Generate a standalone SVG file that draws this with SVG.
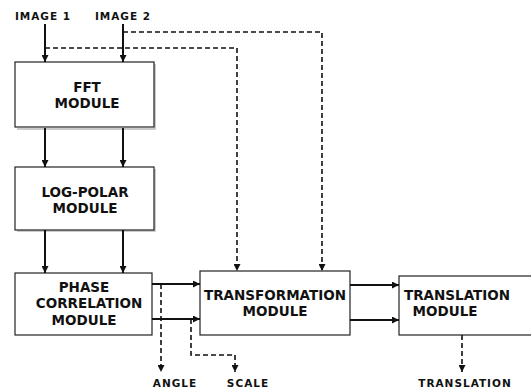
<svg xmlns="http://www.w3.org/2000/svg" width="531" height="391" viewBox="0 0 531 391">
<style>
.box{fill:#fff;stroke:#222;stroke-width:1.2}
.shadow{fill:none;stroke:#bbb;stroke-width:1.5}
.t{font-family:"DejaVu Sans",Verdana,sans-serif;font-weight:bold;font-size:13.5px;fill:#111;text-anchor:middle}
.l{font-family:"DejaVu Sans",Verdana,sans-serif;font-weight:bold;font-size:10.5px;fill:#111;text-anchor:middle;letter-spacing:1px}
.s{fill:none;stroke:#111;stroke-width:2}
.d{fill:none;stroke:#111;stroke-width:1.6;stroke-dasharray:5,3}
</style>
<defs>
<marker id="a" viewBox="0 0 8 8" refX="8" refY="4" markerWidth="7" markerHeight="7" markerUnits="userSpaceOnUse" orient="auto">
<path d="M0,0 L8,4 L0,8 Z" fill="#111"/>
</marker>
</defs>
<g id="labels-in">
<text class="l" x="43" y="20">IMAGE 1</text>
<text class="l" x="123" y="20">IMAGE 2</text>
</g>
<g id="fft">
<polyline class="shadow" points="155,64 155,129 17,129"/>
<rect class="box" x="15" y="62" width="139" height="65"/>
<text class="t" x="87" y="92">FFT</text>
<text class="t" x="87" y="108">MODULE</text>
</g>
<g id="logpolar">
<polyline class="shadow" points="155,169 155,231 17,231"/>
<rect class="box" x="15" y="167" width="139" height="63"/>
<text class="t" x="85" y="197">LOG-POLAR</text>
<text class="t" x="85" y="213">MODULE</text>
</g>
<g id="phase">
<rect class="box" x="15" y="273" width="137" height="62"/>
<text class="t" x="84" y="292">PHASE</text>
<text class="t" x="89" y="308">CORRELATION</text>
<text class="t" x="84" y="325">MODULE</text>
</g>
<g id="transformation">
<rect class="box" x="200" y="271" width="150" height="64"/>
<text class="t" x="275" y="300">TRANSFORMATION</text>
<text class="t" x="275" y="316">MODULE</text>
</g>
<g id="translation">
<rect class="box" x="399" y="276" width="145" height="59"/>
<text class="t" x="457" y="300">TRANSLATION</text>
<text class="t" x="445" y="316">MODULE</text>
</g>
<g id="connectors">
<line class="s" x1="45" y1="24" x2="45" y2="62" marker-end="url(#a)"/>
<line class="s" x1="123" y1="24" x2="123" y2="62" marker-end="url(#a)"/>
<polyline class="d" points="45,48 237,48 237,271" marker-end="url(#a)"/>
<polyline class="d" points="123,32 322,32 322,271" marker-end="url(#a)"/>
<line class="s" x1="45" y1="128" x2="45" y2="167" marker-end="url(#a)"/>
<line class="s" x1="123" y1="128" x2="123" y2="167" marker-end="url(#a)"/>
<line class="s" x1="45" y1="230" x2="45" y2="273" marker-end="url(#a)"/>
<line class="s" x1="123" y1="230" x2="123" y2="273" marker-end="url(#a)"/>
<line class="s" x1="152" y1="284" x2="200" y2="284" marker-end="url(#a)"/>
<line class="s" x1="152" y1="319" x2="200" y2="319" marker-end="url(#a)"/>
<line class="s" x1="350" y1="285" x2="399" y2="285" marker-end="url(#a)"/>
<line class="s" x1="350" y1="320" x2="399" y2="320" marker-end="url(#a)"/>
<polyline class="d" points="161,284 161,372" marker-end="url(#a)"/>
<polyline class="d" points="191,319 191,355 235,355 235,372" marker-end="url(#a)"/>
<polyline class="d" points="462,335 462,372" marker-end="url(#a)"/>
</g>
<g id="labels-out">
<text class="l" x="175" y="387">ANGLE</text>
<text class="l" x="248" y="387">SCALE</text>
<text class="l" x="465" y="387">TRANSLATION</text>
</g>
</svg>
